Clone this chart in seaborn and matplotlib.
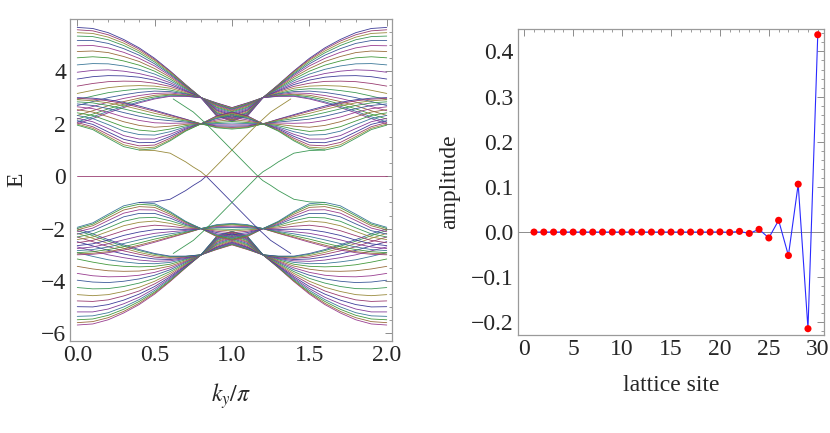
import colorsys
import pandas as pd
import matplotlib
matplotlib.use("Agg")
import matplotlib.pyplot as plt
import seaborn as sns
from matplotlib.ticker import MultipleLocator, FuncFormatter

# ---- band structure (left), read at k_y/pi = 0 .. 1, mirrored about k_y = pi
k_half = [0.0, 0.1, 0.2, 0.3, 0.4, 0.5, 0.6, 0.7, 0.8, 0.9, 1.0]

# upper fan (E > 0), closes near E = 3 at k ~ 0.8
bands_a = [
    [5.68, 5.64, 5.48, 5.22, 4.90, 4.50, 4.02, 3.50, 3.00, 2.80, 2.62],
    [5.59, 5.55, 5.40, 5.16, 4.85, 4.46, 4.00, 3.49, 3.00, 2.79, 2.61],
    [5.48, 5.45, 5.31, 5.08, 4.78, 4.42, 3.97, 3.48, 3.00, 2.77, 2.59],
    [5.35, 5.33, 5.21, 4.99, 4.71, 4.36, 3.93, 3.46, 3.00, 2.76, 2.57],
    [5.18, 5.18, 5.07, 4.87, 4.62, 4.29, 3.89, 3.44, 3.00, 2.73, 2.55],
    [4.98, 4.99, 4.90, 4.73, 4.50, 4.21, 3.84, 3.42, 3.00, 2.71, 2.52],
    [4.76, 4.78, 4.72, 4.57, 4.38, 4.11, 3.78, 3.39, 3.00, 2.68, 2.49],
    [4.52, 4.56, 4.52, 4.40, 4.24, 4.01, 3.71, 3.36, 3.00, 2.64, 2.46],
    [4.25, 4.30, 4.29, 4.21, 4.08, 3.90, 3.64, 3.33, 3.00, 2.61, 2.42],
    [3.97, 4.04, 4.06, 4.01, 3.92, 3.78, 3.57, 3.29, 3.00, 2.57, 2.38],
    [3.71, 3.80, 3.84, 3.83, 3.78, 3.67, 3.50, 3.26, 3.00, 2.53, 2.34],
    [3.44, 3.54, 3.61, 3.63, 3.62, 3.55, 3.43, 3.23, 3.00, 2.50, 2.30],
    [3.16, 3.28, 3.38, 3.44, 3.46, 3.44, 3.36, 3.19, 3.00, 2.46, 2.26],
    [2.92, 3.06, 3.19, 3.27, 3.33, 3.34, 3.29, 3.16, 3.00, 2.43, 2.23],
    [2.70, 2.85, 3.00, 3.11, 3.20, 3.25, 3.23, 3.14, 3.00, 2.40, 2.20],
    [2.50, 2.66, 2.83, 2.97, 3.08, 3.16, 3.18, 3.11, 3.00, 2.37, 2.17],
    [2.32, 2.50, 2.69, 2.85, 2.98, 3.09, 3.13, 3.09, 3.00, 2.34, 2.15],
    [2.18, 2.37, 2.57, 2.75, 2.91, 3.03, 3.10, 3.07, 3.00, 2.33, 2.13],
    [2.07, 2.27, 2.48, 2.67, 2.84, 2.98, 3.07, 3.06, 3.00, 2.31, 2.11],
    [2.00, 2.20, 2.42, 2.62, 2.80, 2.95, 3.05, 3.05, 3.00, 2.30, 2.10],
]

# lower fan (E > 0), closes at E = 2 near k ~ 0.8
bands_b = [
    [3.00, 2.98, 2.92, 2.82, 2.68, 2.52, 2.35, 2.18, 2.00, 2.30, 2.45],
    [2.97, 2.94, 2.88, 2.77, 2.63, 2.48, 2.32, 2.17, 2.00, 2.29, 2.43],
    [2.92, 2.88, 2.80, 2.69, 2.55, 2.40, 2.27, 2.14, 2.00, 2.26, 2.40],
    [2.84, 2.80, 2.70, 2.57, 2.43, 2.30, 2.20, 2.11, 2.00, 2.23, 2.35],
    [2.76, 2.70, 2.58, 2.43, 2.29, 2.18, 2.12, 2.07, 2.00, 2.20, 2.30],
    [2.65, 2.58, 2.44, 2.26, 2.13, 2.04, 2.02, 2.03, 2.00, 2.15, 2.24],
    [2.54, 2.45, 2.27, 2.08, 1.94, 1.87, 1.91, 1.98, 2.00, 2.10, 2.16],
    [2.42, 2.32, 2.11, 1.89, 1.76, 1.71, 1.80, 1.93, 2.00, 2.05, 2.09],
    [2.32, 2.20, 1.97, 1.72, 1.59, 1.57, 1.70, 1.88, 2.00, 2.01, 2.03],
    [2.21, 2.08, 1.82, 1.55, 1.42, 1.42, 1.60, 1.84, 2.00, 1.96, 1.96],
    [2.12, 1.98, 1.69, 1.41, 1.28, 1.29, 1.52, 1.80, 2.00, 1.92, 1.91],
    [2.05, 1.89, 1.59, 1.29, 1.16, 1.19, 1.45, 1.76, 2.00, 1.89, 1.86],
    [1.99, 1.83, 1.51, 1.20, 1.07, 1.11, 1.39, 1.74, 2.00, 1.87, 1.83],
    [1.95, 1.78, 1.45, 1.13, 1.00, 1.05, 1.35, 1.72, 2.00, 1.85, 1.80],
]

# edge state branch (E > 0); its mirror about k = 1 and E -> -E are drawn too
edge_k = [0.4, 0.5, 0.6, 0.7, 0.75, 0.8, 0.833, 0.9, 1.0, 1.1, 1.167, 1.25, 1.38]
edge_e = [1.0, 0.98, 0.88, 0.55, 0.35, 0.17, 0.0, 0.4, 1.0, 1.6, 2.0, 2.45, 2.95]

# zero-energy flat band
flat_k = [0.0, 2.0]
flat_e = [0.0, 0.0]

# ---- edge state amplitude (right)
sites = list(range(1, 31))
amplitude = [0.0, 0.0, 0.0, 0.0, 0.0, 0.0, 0.0, 0.0, 0.0, 0.0,
             0.0, 0.0, 0.0, 0.0, 0.0, 0.0, 0.0, 0.0, 0.0, 0.0003,
             -0.0007, 0.0015, -0.003, 0.006, -0.013, 0.026, -0.052, 0.106, -0.214, 0.437]

sns.set_style("white")
plt.rcParams["font.family"] = ["Liberation Serif", "DejaVu Serif"]
plt.rcParams["mathtext.fontset"] = "stix"
plt.rcParams["axes.unicode_minus"] = True

# old Mathematica default plot colours
math_colors = [colorsys.hsv_to_rgb((0.67 + 0.236068 * n) % 1.0, 0.6, 0.6) for n in range(10)]

# long-form table of all curves
rows = []
cid = 0


def add_curve(ks, es, color_idx):
    global cid
    for k, e in zip(ks, es):
        rows.append({"k": k, "E": e, "curve": cid, "color": color_idx})
    cid += 1


k_full = k_half + [2.0 - k for k in k_half[::-1][1:]]
n = 0
for band in bands_a + bands_b:
    e_full = band + band[::-1][1:]
    add_curve(k_full, e_full, n % 10)
    add_curve(k_full, [-e for e in e_full], (n + 5) % 10)
    n += 1

add_curve(edge_k, edge_e, 2)
add_curve([2.0 - k for k in edge_k], edge_e, 3)
add_curve(edge_k, [-e for e in edge_e], 0)
add_curve([2.0 - k for k in edge_k], [-e for e in edge_e], 3)
add_curve(flat_k, flat_e, 1)

df = pd.DataFrame(rows)
palette = {c: math_colors[ci] for c, ci in df.groupby("curve")["color"].first().items()}


def minus_fmt(fmt):
    def f(v, pos):
        if abs(v) < 1e-9:
            v = 0.0
        return (fmt % v).replace("-", "\u2212")
    return FuncFormatter(f)


fs = 17
fig = plt.figure(figsize=(8.3, 4.33), dpi=100)
ax1 = fig.add_axes([0.0847, 0.2125, 0.3876, 0.7429])
ax2 = fig.add_axes([0.6237, 0.2263, 0.3691, 0.7060])

sns.lineplot(data=df, x="k", y="E", hue="curve", units="curve", estimator=None,
             palette=palette, sort=False, legend=False, linewidth=0.6, ax=ax1)

ax1.set_xlim(-0.045, 2.034)
ax1.set_ylim(-6.29, 5.99)
ax1.xaxis.set_major_locator(MultipleLocator(0.5))
ax1.xaxis.set_minor_locator(MultipleLocator(0.1))
ax1.yaxis.set_major_locator(MultipleLocator(2))
ax1.yaxis.set_minor_locator(MultipleLocator(0.5))
ax1.xaxis.set_major_formatter(minus_fmt("%.1f"))
ax1.yaxis.set_major_formatter(minus_fmt("%d"))
ax1.set_xlabel(r"$k_y/\pi$", fontsize=fs, labelpad=11)
ax1.set_ylabel("E", fontsize=fs, labelpad=10)

sns.lineplot(x=sites, y=amplitude, color="#2a2aff", linewidth=0.8, ax=ax2)
sns.scatterplot(x=sites, y=amplitude, color="#ff0000", s=26, edgecolor="none", zorder=3, ax=ax2)
ax2.axhline(0, color="#8c8c8c", linewidth=0.7, zorder=1)
ax2.set_xlim(-0.67, 30.64)
ax2.set_ylim(-0.228, 0.449)
ax2.xaxis.set_major_locator(MultipleLocator(5))
ax2.xaxis.set_minor_locator(MultipleLocator(1))
ax2.yaxis.set_major_locator(MultipleLocator(0.1))
ax2.yaxis.set_minor_locator(MultipleLocator(0.02))
ax2.yaxis.set_major_formatter(minus_fmt("%.1f"))
ax2.set_xlabel("lattice site", fontsize=fs, labelpad=11)
ax2.set_ylabel("amplitude", fontsize=fs, labelpad=8)

for ax in (ax1, ax2):
    for sp in ax.spines.values():
        sp.set_color("#9a9a9a")
        sp.set_linewidth(0.9)
    ax.tick_params(which="both", direction="in", top=True, right=True,
                   color="#8c8c8c", labelsize=fs, pad=3)
    ax.tick_params(which="major", length=5, width=0.7)
    ax.tick_params(which="minor", length=2.5, width=0.6)

fig.savefig("out.png", dpi=100)
